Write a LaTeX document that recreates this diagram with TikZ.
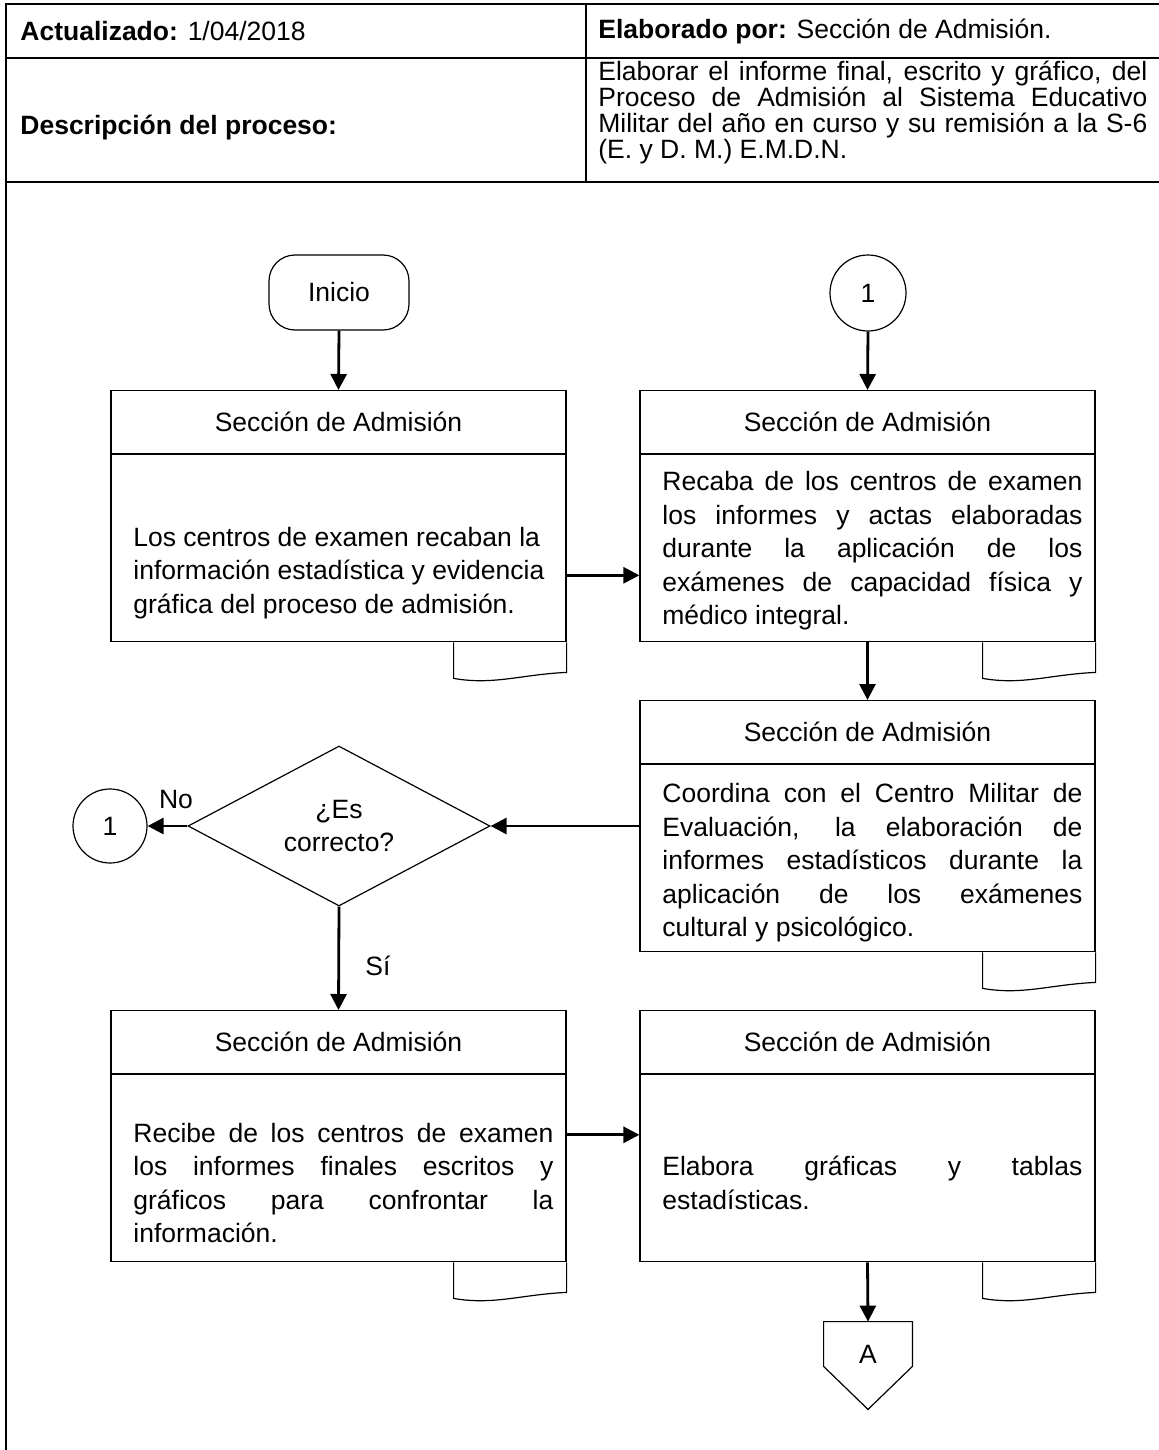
\documentclass[tikz,border=0pt]{standalone}
\usepackage{fontspec}
\setmainfont{Liberation Sans}
\usetikzlibrary{arrows.meta,shapes.geometric,calc}
\newcommand\jl[2]{\makebox[#1][s]{#2}}
\newcommand\docsh[1]{%
  \coordinate (#1d1) at ($(#1.south east)+(-113,0)$);
  \coordinate (#1d2) at ($(#1.south east)+(-113,36)$);
  \coordinate (#1d3) at ($(#1.south east)+(0,30)$);
  \draw[thinl] (#1d1) -- (#1d2) .. controls ($(#1d2)+(40,7)$) and ($(#1d3)+(-45,2)$) .. (#1d3) -- (#1.south east);}
\begin{document}
\begin{tikzpicture}[x=0.5pt,y=-0.5pt,
  font=\fontsize{13.25pt}{16.75pt}\selectfont,
  tbl/.style={line width=1pt},
  thinl/.style={line width=0.6pt},
  bx/.style={draw, thinl, minimum width=227.5pt, inner sep=0pt, anchor=north},
  hdr/.style={bx, minimum height=31.5pt},
  bod/.style={bx, minimum height=93.5pt},
  arr/.style={line width=1.4pt, -{Triangle[length=8pt,width=8pt]}},
  txt/.style={inner sep=0pt, anchor=west, align=left},
  lbl/.style={inner sep=0pt},
]
\useasboundingbox (0,0) rectangle (1159,1450);
% table frame
\draw[tbl] (6,1450) -- (6,4) -- (1159,4);
\draw[tbl] (6,58) -- (1159,58);
\draw[tbl] (6,182) -- (1159,182);
\draw[tbl] (586,4) -- (586,182);
\node[txt] (t1) at (20,31) {\textbf{Actualizado:} 1/04/2018};
\node[txt] (t2) at (598,31) {\textbf{Elaborado por:} Sección de Admisión.};
\node[txt] (t3) at (20,128) {\textbf{Descripción del proceso:}};
\node[txt, font=\fontsize{13.25pt}{13pt}\selectfont] (t4) at (598,112) {%
\jl{274.5pt}{Elaborar el informe final, escrito y gráfico, del}\\
\jl{274.5pt}{Proceso de Admisión al Sistema Educativo}\\
\jl{274.5pt}{Militar del año en curso y su remisión a la S-6}\\
(E. y D. M.) E.M.D.N.};

% start / connectors
\node[draw, thinl, rounded corners=13pt, minimum width=70pt, minimum height=37.5pt, inner sep=0pt] (ini) at (339,292.5) {Inicio};
\node[draw, thinl, circle, minimum size=38pt, inner sep=0pt] (c1) at (868,293) {1};

% boxes
\node[hdr] (b1h) at (338.5,390) {Sección de Admisión};
\node[bod] (b1) at (b1h.south) {};
\node[hdr] (b2h) at (867.5,390) {Sección de Admisión};
\node[bod] (b2) at (b2h.south) {};
\node[hdr] (b3h) at (867.5,700) {Sección de Admisión};
\node[bod] (b3) at (b3h.south) {};
\node[hdr] (b4h) at (338.5,1010) {Sección de Admisión};
\node[bod] (b4) at (b4h.south) {};
\node[hdr] (b5h) at (867.5,1010) {Sección de Admisión};
\node[bod] (b5) at (b5h.south) {};
\docsh{b1}\docsh{b2}\docsh{b3}\docsh{b4}\docsh{b5}

\node[txt] (x1) at (133,573) {Los centros de examen recaban la\\información estadística y evidencia\\gráfica del proceso de admisión.};
\node[txt] (x2) at (662,551) {%
\jl{210pt}{Recaba de los centros de examen}\\
\jl{210pt}{los informes y actas elaboradas}\\
\jl{210pt}{durante la aplicación de los}\\
\jl{210pt}{exámenes de capacidad física y}\\
médico integral.};
\node[txt] (x3) at (662,863) {%
\jl{210pt}{Coordina con el Centro Militar de}\\
\jl{210pt}{Evaluación, la elaboración de}\\
\jl{210pt}{informes estadísticos durante la}\\
\jl{210pt}{aplicación de los exámenes}\\
cultural y psicológico.};
\node[txt] (x4) at (133,1183) {%
\jl{210pt}{Recibe de los centros de examen}\\
\jl{210pt}{los informes finales escritos y}\\
\jl{210pt}{gráficos para confrontar la}\\
información.};
\node[txt] (x5) at (662,1183) {%
\jl{210pt}{Elabora gráficas y tablas}\\
estadísticas.};

% decision
\node[draw, thinl, diamond, minimum width=151pt, minimum height=80pt, inner sep=0pt] (dia) at (339,826) {};
\node[lbl, align=center] (diat) at (339,826) {¿Es\\correcto?};
\node[draw, thinl, circle, minimum size=37pt, inner sep=0pt] (c1L) at (110,826) {1};
\node[lbl] (no) at (176,800) {No};
\node[lbl] (si) at (378,966) {Sí};

% off-page connector
\node[inner sep=0pt, minimum width=44pt, minimum height=22pt] (A) at (868,1344) {};
\coordinate (Atip) at ($(A.south)+(0,43)$);
\draw[thinl] (A.north west) -- (A.north east) -- (A.south east) -- (Atip) -- (A.south west) -- cycle;
\node[lbl] (Al) at (868,1354) {A};

% arrows
\draw[arr] (ini.south) -- (b1h.north);
\draw[arr] (c1.south) -- (b2h.north);
\coordinate (a1) at ($(b1.east)+(0,27)$);
\draw[arr] (a1) -- (a1 -| b2.west);
\draw[arr] (b2.south) -- (b3h.north);
\draw[arr] (b3.west |- dia.east) -- (dia.east);
\draw[arr] (dia.west) -- (c1L.east);
\draw[arr] (dia.south) -- (b4h.north);
\coordinate (a2) at ($(b4.east)+(0,-33.5)$);
\draw[arr] (a2) -- (a2 -| b5.west);
\draw[arr] (b5.south) -- (A.north);
\end{tikzpicture}
\end{document}
